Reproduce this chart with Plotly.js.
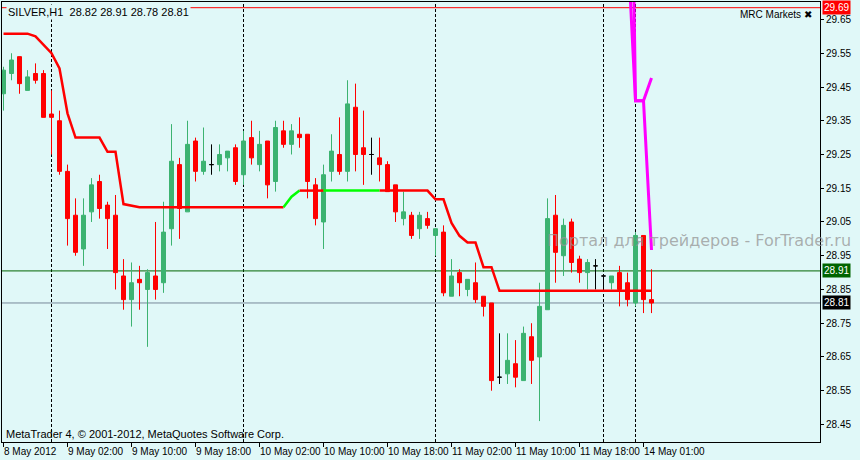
<!DOCTYPE html>
<html><head><meta charset="utf-8">
<script src="https://cdn.plot.ly/plotly-3.0.1.min.js"></script>
<style>html,body{margin:0;padding:0;background:#e0f8f8;}#chart{width:860px;height:460px;}</style>
</head><body><div id="chart"></div>
<script>
// ---- data (hourly bars, SILVER H1) ----
const open  = [29.43,29.49,29.54,29.44,29.49,29.49,29.37,29.35,29.20,29.07,
               28.97,29.08,29.17,29.10,29.07,28.89,28.82,28.88,28.85,28.89,
               28.87,29.03,29.22,29.08,29.29,29.20,29.22,29.22,29.24,29.27,
               29.19,29.30,29.22,29.29,29.17,29.32,29.28,29.31,29.31,29.16,
               29.05,29.20,29.25,29.20,29.39,29.27,29.25,29.24,29.22,29.16,
               29.06,29.07,29.03,29.06,29.01,29.02,28.83,28.90,28.85,28.87,
               28.83,28.81,28.59,28.60,28.63,28.58,28.71,28.65,28.79,29.07,
               28.95,29.05,28.94,28.90,28.92,28.89,28.87,28.90,28.87,28.81,
               29.01,28.82];
const high  = [29.51,29.55,29.54,29.50,29.52,29.50,29.44,29.38,29.22,29.12,
               29.12,29.18,29.19,29.11,29.13,28.94,28.93,28.92,28.91,29.05,
               29.11,29.34,29.24,29.35,29.30,29.33,29.28,29.28,29.26,29.28,
               29.32,29.35,29.32,29.29,29.35,29.35,29.34,29.36,29.31,29.18,
               29.22,29.31,29.36,29.47,29.46,29.38,29.30,29.30,29.23,29.16,
               29.14,29.08,29.08,29.08,29.03,29.04,28.94,28.91,28.88,28.93,
               28.83,28.81,28.72,28.72,28.70,28.74,28.75,28.87,29.12,29.13,
               29.06,29.06,28.95,28.94,28.94,28.89,28.89,28.92,28.90,29.02,
               29.01,28.91];
const low   = [29.38,29.47,29.43,29.44,29.46,29.36,29.25,29.19,28.98,28.95,
               28.92,29.05,29.06,28.97,28.85,28.79,28.74,28.79,28.68,28.82,
               28.84,28.98,29.00,29.08,29.17,29.19,29.19,29.20,29.20,29.16,
               29.16,29.22,29.20,29.12,29.14,29.27,29.25,29.27,29.12,29.04,
               28.97,29.17,29.19,29.17,29.20,29.16,29.19,29.17,29.14,29.05,
               29.04,29.00,29.00,29.03,28.95,28.83,28.83,28.83,28.83,28.81,
               28.77,28.55,28.57,28.57,28.56,28.58,28.57,28.46,28.79,28.87,
               28.89,28.90,28.87,28.85,28.85,28.85,28.85,28.80,28.80,28.80,
               28.78,28.78];
const close = [29.50,29.53,29.46,29.48,29.47,29.36,29.36,29.20,29.06,28.96,
               29.07,29.16,29.09,29.06,28.90,28.82,28.87,28.87,28.90,28.85,
               29.02,29.23,29.09,29.28,29.20,29.23,29.22,29.25,29.26,29.17,
               29.29,29.24,29.28,29.16,29.33,29.28,29.32,29.30,29.17,29.06,
               29.19,29.26,29.20,29.40,29.25,29.25,29.25,29.22,29.14,29.08,
               29.08,29.01,29.07,29.04,29.03,28.84,28.89,28.87,28.88,28.82,
               28.80,28.58,28.59,28.64,28.59,28.72,28.64,28.80,29.06,28.96,
               29.04,28.93,28.90,28.93,28.92,28.89,28.89,28.85,28.82,29.01,
               28.82,28.81];

// trailing stop indicator (red / green buffers)
const stopRed = [29.608,29.608,29.608,29.608,29.600,29.574,29.550,29.505,29.372,29.300,
                 29.300,29.300,29.300,29.258,29.258,29.103,29.098,29.094,29.094,29.094,
                 29.094,29.094,29.094,29.094,29.094,29.094,29.094,29.094,29.094,29.094,
                 29.094,29.094,29.094,29.094,29.094,29.094,null,29.143,29.143,29.143,
                 29.143,null,null,null,null,null,null,29.143,29.143,29.143,
                 29.143,29.143,29.143,29.143,29.117,29.117,29.047,29.009,28.989,28.989,
                 28.916,28.916,28.846,28.846,28.846,28.846,28.846,28.846,28.846,28.846,
                 28.846,28.846,28.846,28.846,28.846,28.846,28.846,28.846,28.846,28.846,
                 28.846,28.846];
const stopGreen = [null,null,null,null,null,null,null,null,null,null,
                   null,null,null,null,null,null,null,null,null,null,
                   null,null,null,null,null,null,null,null,null,null,
                   null,null,null,null,null,29.094,29.125,29.143,null,null,
                   29.143,29.143,29.143,29.143,29.143,29.143,29.143,29.143,null,null,
                   null,null,null,null,null,null,null,null,null,null,
                   null,null,null,null,null,null,null,null,null,null,
                   null,null,null,null,null,null,null,null,null,null,
                   null,null];
// magenta forecast lines (only last bars)
const magentaIdx = [78,79,80,81];
const magentaA = [29.877,29.409,29.409,29.477];
const magentaB = [31.000,29.409,29.409,28.967];

// horizontal levels
const levelValues = [29.685, 28.905, 28.81];
const levelLabels = ['29.69', '28.91', '28.81'];
const levelColors = ['#ff0000', '#006400', '#778899'];
const boxColors   = ['#ff0000', '#006400', '#000000'];

// day separators (bar index)
const separators = [6, 30, 54, 75, 79];

// axis ticks
const xTickIdx = [0, 8, 16, 24, 32, 40, 48, 56, 64, 72, 80];
const xTickText = ['8 May 2012','9 May 02:00','9 May 10:00','9 May 18:00','10 May 02:00',
                   '10 May 10:00','10 May 18:00','11 May 02:00','11 May 10:00','11 May 18:00','14 May 01:00'];
const yTicks = [28.45,28.55,28.65,28.75,28.85,28.95,29.05,29.15,29.25,29.35,29.45,29.55,29.65];

// ---- build ----
const idx = close.map((_, i) => i);
const BG = '#e0f8f8';
const FONT = 'Liberation Sans, Arial, sans-serif';

const kinds = [
  {test: i => close[i] > open[i], color: '#3cb371'},
  {test: i => close[i] < open[i], color: '#ff0000'},
  {test: i => close[i] === open[i], color: '#000000'}
];
const candleTraces = kinds.map(k => {
  const ii = idx.filter(k.test);
  return {
    type: 'candlestick', x: ii,
    open: ii.map(i => open[i]), high: ii.map(i => high[i]),
    low: ii.map(i => low[i]), close: ii.map(i => close[i]),
    increasing: {line: {color: k.color, width: 1}, fillcolor: k.color},
    decreasing: {line: {color: k.color, width: 1}, fillcolor: k.color},
    whiskerwidth: 0, hoverinfo: 'skip', showlegend: false
  };
});

const lineTraces = [
  {type: 'scatter', mode: 'lines', x: idx, y: stopRed, line: {color: '#ff0000', width: 2.5}, connectgaps: false, hoverinfo: 'skip', showlegend: false},
  {type: 'scatter', mode: 'lines', x: idx, y: stopGreen, line: {color: '#00ff00', width: 2.5}, connectgaps: false, hoverinfo: 'skip', showlegend: false},
  {type: 'scatter', mode: 'lines', x: magentaIdx, y: magentaA, line: {color: '#ff00ff', width: 3}, hoverinfo: 'skip', showlegend: false},
  {type: 'scatter', mode: 'lines', x: magentaIdx, y: magentaB, line: {color: '#ff00ff', width: 3}, hoverinfo: 'skip', showlegend: false}
];

const shapes = [];
separators.forEach(s => shapes.push({type: 'line', xref: 'x', yref: 'paper', x0: s, x1: s, y0: 0, y1: 1,
  line: {color: '#000000', width: 1, dash: '3px,2px'}, layer: 'below'}));
levelValues.forEach((v, k) => shapes.push({type: 'line', xref: 'paper', yref: 'y', x0: 0, x1: 1, y0: v, y1: v,
  line: {color: levelColors[k], width: 1}, layer: 'below'}));

const last = close.length - 1;
const header = 'SILVER,H1\u00A0\u00A0' + [open[last], high[last], low[last], close[last]].map(v => v.toFixed(2)).join(' ');

const annotations = [
  {xref: 'paper', yref: 'paper', x: 0, y: 1, xanchor: 'left', yanchor: 'top', xshift: 4, yshift: -2,
   text: header, showarrow: false, bgcolor: BG, borderpad: 1, font: {family: FONT, size: 11, color: '#000'}},
  {xref: 'paper', yref: 'paper', x: 1, y: 1, xanchor: 'right', yanchor: 'top', xshift: -6, yshift: -5,
   text: 'MRC Markets \u2716', showarrow: false, font: {family: FONT, size: 10, color: '#000'}},
  {xref: 'paper', yref: 'paper', x: 0, y: 0, xanchor: 'left', yanchor: 'bottom', xshift: 2, yshift: 0,
   text: 'MetaTrader 4, \u00A9 2001-2012, MetaQuotes Software Corp.', showarrow: false,
   font: {family: FONT, size: 11, color: '#000'}},
  {xref: 'paper', yref: 'paper', x: 543/818, y: (442-240)/440, xanchor: 'left', yanchor: 'middle',
   text: 'Портал для трейдеров - ForTrader.ru', showarrow: false,
   font: {family: 'DejaVu Sans, sans-serif', size: 16, color: 'rgba(150,150,150,0.75)'}}
];
levelValues.forEach((v, k) => annotations.push({xref: 'paper', yref: 'y', x: 1, y: v, xanchor: 'left', yanchor: 'middle',
  xshift: 2, text: levelLabels[k], showarrow: false, bgcolor: boxColors[k], borderpad: 1,
  font: {family: FONT, size: 10, color: '#ffffff'}}));

const layout = {
  width: 860, height: 460,
  margin: {l: 2, r: 40, t: 2, b: 18, pad: 0},
  paper_bgcolor: BG, plot_bgcolor: BG,
  showlegend: false,
  boxgap: 0.5, boxgroupgap: 0,
  xaxis: {type: 'linear', range: [-0.1875, 102.0625], fixedrange: true,
    showgrid: false, zeroline: false, showline: true, mirror: true, linecolor: '#000', linewidth: 1,
    ticks: 'outside', ticklen: 4, tickcolor: '#000', tickwidth: 1,
    tickmode: 'array', tickvals: xTickIdx.map(i => i - 0.0625), ticktext: xTickText,
    ticklabelposition: 'outside right', tickangle: 0,
    tickfont: {family: FONT, size: 10, color: '#000'},
    rangeslider: {visible: false}},
  yaxis: {side: 'right', range: [28.398, 29.7019], fixedrange: true,
    showgrid: false, zeroline: false, showline: true, mirror: true, linecolor: '#000', linewidth: 1,
    ticks: 'outside', ticklen: 3, tickcolor: '#000', tickwidth: 1,
    tickmode: 'array', tickvals: yTicks, ticktext: yTicks.map(v => v.toFixed(2)),
    tickfont: {family: FONT, size: 10, color: '#000'}},
  shapes: shapes,
  annotations: annotations
};

Plotly.newPlot('chart', lineTraces.concat(candleTraces), layout, {staticPlot: true, displayModeBar: false});
</script>
</body></html>
